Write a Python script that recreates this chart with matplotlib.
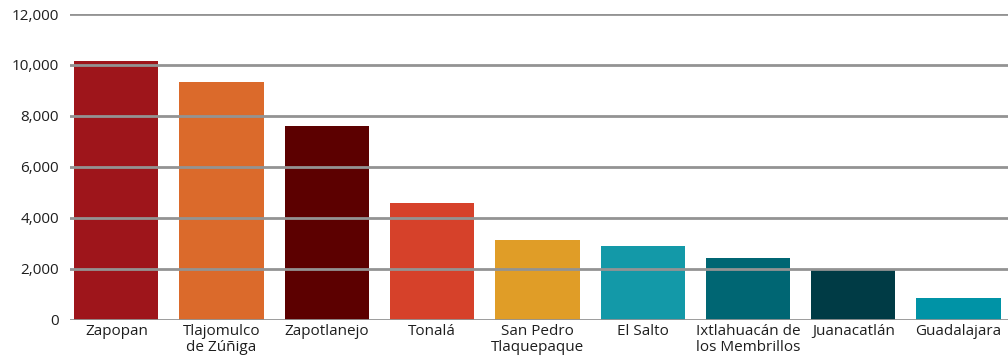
import matplotlib.pyplot as plt
from matplotlib.ticker import FuncFormatter

# data
municipios = ['Zapopan', 'Tlajomulco\nde Zúñiga', 'Zapotlanejo', 'Tonalá',
              'San Pedro\nTlaquepaque', 'El Salto', 'Ixtlahuacán de\nlos Membrillos',
              'Juanacatlán', 'Guadalajara']
valores = [10160, 9330, 7600, 4590, 3120, 2890, 2420, 1970, 860]
colores = ['#9E151B', '#DB6A2B', '#5C0000', '#D6412A', '#E09D27',
           '#1399A8', '#006673', '#003B45', '#0093A6']
yticks = [0, 2000, 4000, 6000, 8000, 10000, 12000]

plt.rcParams['font.family'] = ['Open Sans', 'DejaVu Sans']
plt.rcParams['font.weight'] = 'medium'

fig = plt.figure(figsize=(10.08, 3.62), dpi=100)
ax = fig.add_axes([70/1008, 42.5/362, 938/1008, 305.5/362])

x = range(len(municipios))
ax.bar(x, valores, width=0.8, color=colores, zorder=1)

ax.set_ylim(0, 12000)
ax.set_xlim(-0.44, 8.47)
ax.set_yticks(yticks)
ax.yaxis.set_major_formatter(FuncFormatter(lambda v, p: f'{int(v):,}'))
ax.set_xticks(list(x))
ax.set_xticklabels(municipios, linespacing=1.1)

for t in yticks:
    ax.axhline(t, color='#939393', lw=2, zorder=3)

for s in ax.spines.values():
    s.set_visible(False)
ax.tick_params(axis='both', length=0, labelsize=11, colors='#1e1e1e')
ax.tick_params(axis='y', pad=8)
ax.tick_params(axis='x', pad=3)

fig.savefig('out.png', dpi=100)
